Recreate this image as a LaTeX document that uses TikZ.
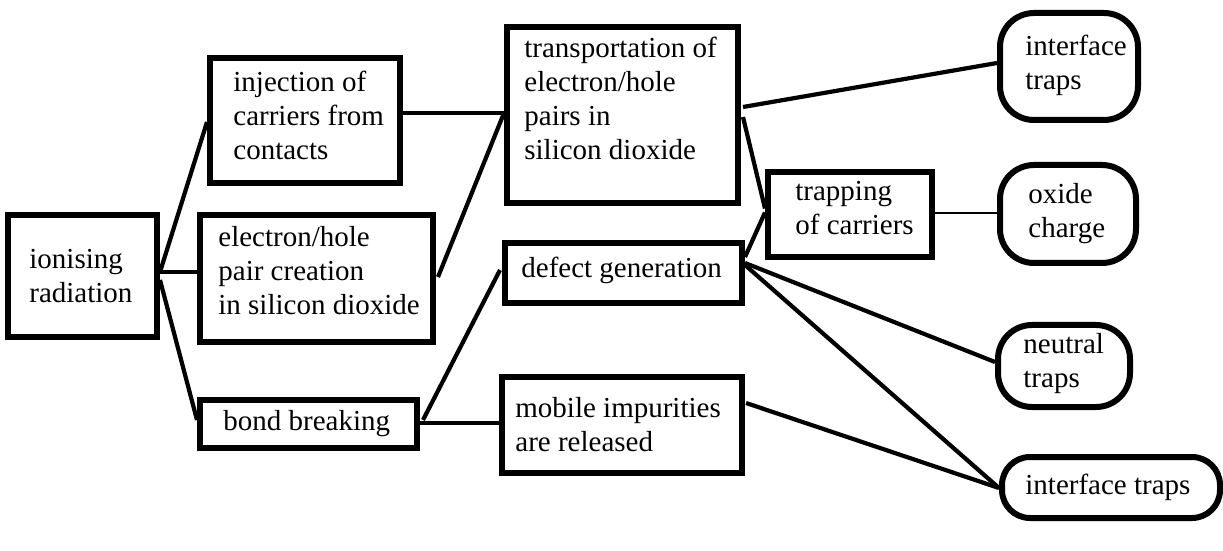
\documentclass[tikz,border=0pt]{standalone}
\usepackage{fontspec}
\setmainfont{Liberation Serif}
\newfontfamily\labelfont{Liberation Serif}
\usetikzlibrary{calc}
\begin{document}
\begin{tikzpicture}[x=0.5pt,y=-0.5pt,
  box/.style={draw=black, line width=3pt, rectangle, inner sep=0pt},
  endbox/.style={draw=black, line width=3pt, rectangle, rounded corners=17pt, inner sep=0pt},
  txt/.style={inner sep=0pt, align=left, font=\labelfont\fontsize{14.5}{17}\selectfont},
  link/.style={line width=2.1pt},
  thinlink/.style={line width=1.2pt}]
\useasboundingbox (0,0) rectangle (1223,551);
\fill[white] (0,0) rectangle (1223,551);

% boxes (centre, size in pt)
\node[box, minimum width=74.5pt, minimum height=61pt] (ion) at (82.5,276) {};
\node[box, minimum width=95pt, minimum height=62.5pt] (inj) at (305,120.5) {};
\node[box, minimum width=116.5pt, minimum height=63.5pt] (ehp) at (316.5,278.5) {};
\node[box, minimum width=108.5pt, minimum height=24pt] (bond) at (308.5,424) {};
\node[box, minimum width=115.5pt, minimum height=88pt] (trans) at (622.5,115) {};
\node[box, minimum width=118.5pt, minimum height=30pt] (defect) at (623.5,273) {};
\node[box, minimum width=120pt, minimum height=48pt] (mobile) at (622,425) {};
\node[box, minimum width=82pt, minimum height=42.5pt] (trap) at (850,214.5) {};
\node[endbox, minimum width=69pt, minimum height=53.5pt] (it1) at (1069,66.5) {};
\node[endbox, minimum width=68pt, minimum height=49pt] (ox) at (1068,214) {};
\node[endbox, minimum width=66pt, minimum height=41pt] (neu) at (1064,366) {};
\node[endbox, rounded corners=14pt, minimum width=109pt, minimum height=30.5pt] (it2) at (1111,487.5) {};

% texts
\node[txt, anchor=west] (ion-t) at (29,276) {ionising\\radiation};
\node[txt, anchor=west] (inj-t) at (233,115) {injection of\\carriers from\\contacts};
\node[txt, anchor=west] (ehp-t) at (218,271) {electron/hole\\pair creation\\in silicon dioxide};
\node[txt, anchor=west] (bond-t) at (223,424) {bond breaking};
\node[txt, anchor=north west] (trans-t) at (524,37) {transportation of\\electron/hole\\pairs in\\silicon dioxide};
\node[txt, anchor=west] (defect-t) at (521,270) {defect generation};
\node[txt, anchor=west] (mobile-t) at (515,425) {mobile impurities\\are released};
\node[txt, anchor=west] (trap-t) at (795,208) {trapping\\of carriers};
\node[txt, anchor=west] (it1-t) at (1025,65) {interface\\traps};
\node[txt, anchor=west] (ox-t) at (1028,214) {oxide\\charge};
\node[txt, anchor=west] (neu-t) at (1023,364) {neutral\\traps};
\node[txt, anchor=west] (it2-t) at (1025,487) {interface traps};

% connector end points
\coordinate (ionout) at ($(ion.east)+(0,-4)$);
\coordinate (ehpin) at (ionout -| ehp.west);
\coordinate (transin) at ($(trans.west)+(0,-2)$);
\coordinate (injout) at (transin -| inj.east);
\coordinate (bondout) at ($(bond.east)+(0,-1)$);
\coordinate (mobin) at (bondout -| mobile.west);
\coordinate (trapout) at ($(trap.east)+(0,-1.5)$);
\coordinate (oxin) at (trapout -| ox.west);
\coordinate (it2in) at ($(it2.west)+(0,0.5)$);

% connectors
\draw[link] (ionout) -- ($(inj.west)+(0,1.5)$);
\draw[link] (ionout) -- (ehpin);
\draw[link] ($(ion.east)+(0,4)$) -- ($(bond.west)+(0,-4)$);
\draw[link] (injout) -- (transin);
\draw[link] ($(ehp.east)+(2,-1.5)$) -- (transin);
\draw[link] ($(bond.east)+(3,-4)$) -- ($(defect.west)+(-2,-3)$);
\draw[link] (bondout) -- (mobin);
\draw[link] ($(trans.east)+(2,-8)$) -- ($(it1.west)+(0,-3.5)$);
\draw[link] ($(trans.east)+(2,2)$) -- ($(trap.west)+(0,-6)$);
\draw[link] ($(defect.east)+(0,-16)$) -- ($(trap.west)+(0,-2)$);
\draw[thinlink] (trapout) -- (oxin);
\draw[link] ($(defect.east)+(0,-10)$) -- ($(neu.west)+(0,-4)$);
\draw[link] ($(defect.east)+(0,-8)$) -- (it2in);
\draw[link] ($(mobile.east)+(1,-22)$) -- (it2in);
\end{tikzpicture}
\end{document}
